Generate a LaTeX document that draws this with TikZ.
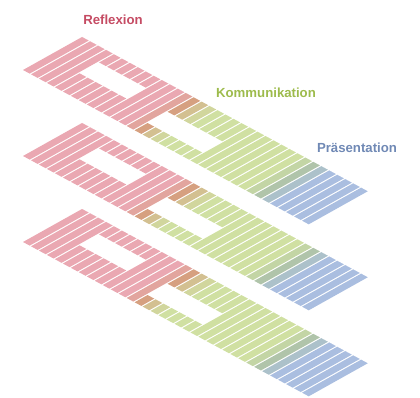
\documentclass[tikz,border=0pt]{standalone}
\usepackage{fontspec}
\setmainfont{Liberation Sans}
\definecolor{cpink}{RGB}{234,168,178}
\definecolor{cbrown}{RGB}{214,160,128}
\definecolor{cgreen}{RGB}{208,224,162}
\definecolor{cgray}{RGB}{176,196,170}
\definecolor{cblue}{RGB}{170,190,224}
\definecolor{tred}{RGB}{197,75,99}
\definecolor{tgreen}{RGB}{157,187,76}
\definecolor{tblue}{RGB}{112,137,181}
\tikzset{lbl/.style={font=\fontsize{13.2}{15}\selectfont\bfseries, inner sep=0pt}}
\begin{document}
\begin{tikzpicture}[x=1pt,y=-1pt]
\useasboundingbox (0,0) rectangle (420,398);
\foreach \k in {0,1,2}{
  \pgfmathsetmacro\yy{-70-86*\k}
  \begin{scope}[shift={(23pt,\yy pt)}, x={(287pt,-155pt)}, y={(59pt,33pt)}]
  \foreach \i/\c in {0/cpink,1/cpink,2/cpink,3/cpink,4/cpink,5/cpink,6/cpink,7/cpink,8/cpink,9/cpink,10/cpink,11/cpink,12/cpink,13/cpink!60!cbrown,14/cbrown,15/cbrown!50!cgreen,16/cbrown!15!cgreen,17/cgreen,18/cgreen,19/cgreen,20/cgreen,21/cgreen,22/cgreen,23/cgreen,24/cgreen,25/cgreen,26/cgreen,27/cgreen,28/cgreen!60!cgray,29/cgray,30/cgray!40!cblue,31/cblue,32/cblue,33/cblue,34/cblue,35/cblue}{
    \pgfmathsetmacro\ua{\i/36}
    \pgfmathsetmacro\ub{(\i+0.84)/36}
    \def\va{1}\def\vb{1}
    \ifnum\i>3 \ifnum\i<10 \def\va{0.42}\def\vb{0.75}\fi\fi
    \ifnum\i>13 \ifnum\i<21 \def\va{0.22}\def\vb{0.56}\fi\fi
    \fill[\c] (\ua,0) -- (\ub,0) -- (\ub,\va) -- (\ua,\va) -- cycle;
    \fill[\c] (\ua,\vb) -- (\ub,\vb) -- (\ub,1) -- (\ua,1) -- cycle;
  }
  \end{scope}
}
\node[lbl, text=tred] (refl) at (113,20) {Reflexion};
\node[lbl, text=tgreen] (komm) at (266,93) {Kommunikation};
\node[lbl, text=tblue] (praes) at (357,148) {Präsentation};
\end{tikzpicture}
\end{document}
